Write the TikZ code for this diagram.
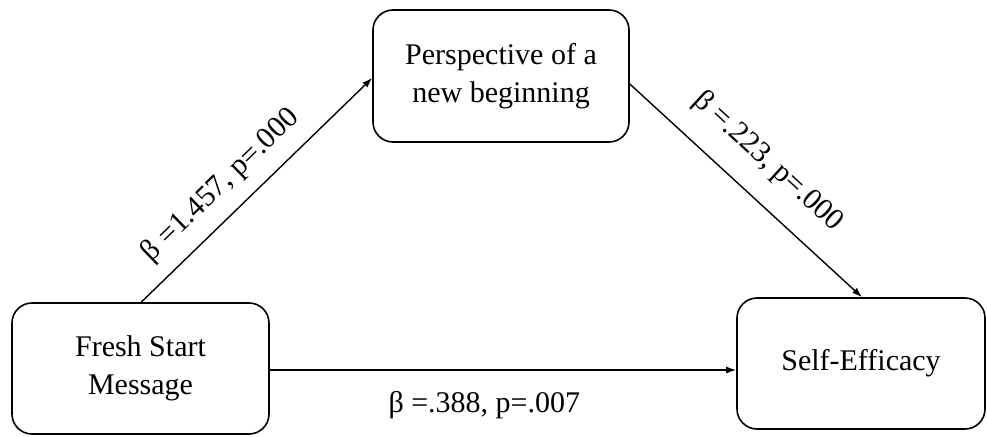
\documentclass[tikz,border=0pt]{standalone}
\usepackage{fontspec}
\setmainfont{Liberation Serif}
\usetikzlibrary{arrows.meta}
\begin{document}
\begin{tikzpicture}[x=1pt,y=-1pt,
  box/.style={draw, line width=1.6pt, rounded corners=20pt, align=center,
    font=\fontsize{30}{38}\selectfont, inner sep=0pt},
  arr/.style={line width=1.4pt, -{Latex[length=10pt,width=7pt]}},
  lbl/.style={font=\fontsize{30}{36}\selectfont, inner sep=0pt}]
\useasboundingbox (0,0) rectangle (987,436);
\node[box, minimum width=256pt, minimum height=132pt] (pnb) at (501,76) {Perspective of a\\new beginning};
\node[box, minimum width=257pt, minimum height=131pt] (fsm) at (140.5,368.5) {Fresh Start\\Message};
\node[box, minimum width=248pt, minimum height=131pt] (se) at (861,363.5) {Self-Efficacy};
\draw[arr] ([xshift=130pt]fsm.north west) -- ([yshift=-2pt]pnb.west)
  node[lbl, sloped, pos=0.43, above=14pt] {β =1.457, p=.000};
\draw[arr] ([yshift=-8pt]pnb.east) -- ([xshift=1pt]se.north)
  node[lbl, sloped, pos=0.49, above=22pt] {β =.223, p=.000};
\draw[arr] ([yshift=-1.5pt]fsm.east) -- ([yshift=-1.5pt]fsm.east -| se.west)
  node[lbl, pos=0.46, below=21pt] {β =.388, p=.007};
\end{tikzpicture}
\end{document}
